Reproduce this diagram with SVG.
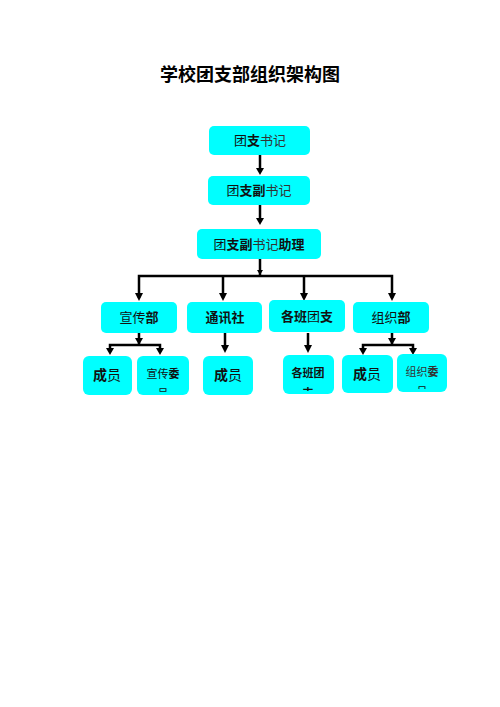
<svg xmlns="http://www.w3.org/2000/svg" width="500" height="707" viewBox="0 0 500 707">
<style>
.box{fill:#00FFFF;}
.t{font-family:"Noto Sans CJK SC","Noto Sans CJK JP",sans-serif;font-size:13px;fill:#111;text-anchor:middle;}
.s{font-size:11px;}
.m{font-size:14px;}
.b{font-weight:bold;}
.g{fill:#333;}
.ln{stroke:#000;stroke-width:2.5;fill:none;}
</style>
<defs>
<clipPath id="c1"><rect x="137" y="356" width="52" height="36" rx="6"/></clipPath>
<clipPath id="c2"><rect x="283" y="355" width="51" height="36" rx="6"/></clipPath>
<clipPath id="c3"><rect x="397" y="354" width="50" height="35" rx="6"/></clipPath>
</defs>
<rect width="500" height="707" fill="#fff"/>
<text x="250" y="81" text-anchor="middle" style="font-family:'Noto Sans CJK SC',sans-serif;font-size:18px;font-weight:bold;fill:#000">学校团支部组织架构图</text>

<g id="connectors">
<path class="ln" d="M260,155 V172"/>
<path d="M256,168 L264,168 L260,175 Z"/>
<path class="ln" d="M260,205 V222"/>
<path d="M256,218 L264,218 L260,225 Z"/>
<path class="ln" d="M260,259 V276"/>
<path d="M257,270 L263,270 L260,275 Z"/>
<path class="ln" d="M139,298 V276 H392 V298"/>
<path class="ln" d="M223,276 V298"/>
<path class="ln" d="M304,276 V298"/>
<path d="M135,293 L143,293 L139,301 Z"/>
<path d="M219,293 L227,293 L223,301 Z"/>
<path d="M300,293 L308,293 L304,301 Z"/>
<path d="M388,293 L396,293 L392,301 Z"/>
<path class="ln" d="M139,333 V345"/>
<path d="M135,338 L143,338 L139,345 Z"/>
<path class="ln" d="M110,352 V345 H160 V352"/>
<path d="M106,348 L114,348 L110,355 Z"/>
<path d="M156,348 L164,348 L160,355 Z"/>
<path class="ln" d="M225,333 V349"/>
<path d="M221,345 L229,345 L225,353 Z"/>
<path class="ln" d="M308,333 V349"/>
<path d="M304,345 L312,345 L308,353 Z"/>
<path class="ln" d="M392,333 V345"/>
<path d="M388,338 L396,338 L392,345 Z"/>
<path class="ln" d="M363,352 V345 H413 V352"/>
<path d="M359,348 L367,348 L363,355 Z"/>
<path d="M409,348 L417,348 L413,355 Z"/>
</g>

<g id="n1"><rect class="box" x="209" y="126" width="101" height="29" rx="5"/>
<text class="t" x="260" y="145">团<tspan class="b">支</tspan><tspan class="g">书记</tspan></text></g>
<g id="n2"><rect class="box" x="208" y="176" width="102" height="29" rx="5"/>
<text class="t" x="259" y="195">团<tspan class="b">支副</tspan><tspan class="g">书记</tspan></text></g>
<g id="n3"><rect class="box" x="197" y="229" width="124" height="30" rx="5"/>
<text class="t" x="259" y="249">团<tspan class="b">支副</tspan><tspan class="g">书记</tspan><tspan class="b">助理</tspan></text></g>

<g id="n4"><rect class="box" x="101" y="302" width="76" height="31" rx="5"/>
<text class="t" x="139" y="322">宣传<tspan class="b">部</tspan></text></g>
<g id="n5"><rect class="box" x="187" y="302" width="75" height="31" rx="5"/>
<text class="t b" x="225" y="322">通讯社</text></g>
<g id="n6"><rect class="box" x="269" y="300" width="76" height="32" rx="5"/>
<text class="t" x="307" y="321"><tspan class="b">各班</tspan>团<tspan class="b">支</tspan></text></g>
<g id="n7"><rect class="box" x="353" y="302" width="76" height="31" rx="5"/>
<text class="t" x="391" y="322">组织<tspan class="b">部</tspan></text></g>

<g id="n8"><rect class="box" x="83" y="356" width="49" height="39" rx="6"/>
<text class="t m" x="107" y="380"><tspan class="b">成</tspan>员</text></g>
<g id="n9"><rect class="box" x="137" y="356" width="52" height="39" rx="6"/>
<g clip-path="url(#c1)"><text class="t s" x="163" y="378">宣传<tspan class="b">委</tspan></text>
<text class="t s" x="163" y="398">员</text></g></g>
<g id="n10"><rect class="box" x="203" y="356" width="50" height="39" rx="6"/>
<text class="t m" x="228" y="380"><tspan class="b">成</tspan>员</text></g>
<g id="n11"><rect class="box" x="283" y="355" width="51" height="39" rx="6"/>
<g clip-path="url(#c2)"><text class="t s b" x="308" y="377">各班团</text>
<text class="t s b" x="308" y="397">支</text></g></g>
<g id="n12"><rect class="box" x="342" y="355" width="51" height="38" rx="6"/>
<text class="t m" x="367" y="379"><tspan class="b">成</tspan>员</text></g>
<g id="n13"><rect class="box" x="397" y="354" width="50" height="38" rx="6"/>
<g clip-path="url(#c3)"><text class="t s g" x="422" y="376">组织<tspan class="b">委</tspan></text>
<text class="t s" x="422" y="396">员</text></g></g>
</svg>
